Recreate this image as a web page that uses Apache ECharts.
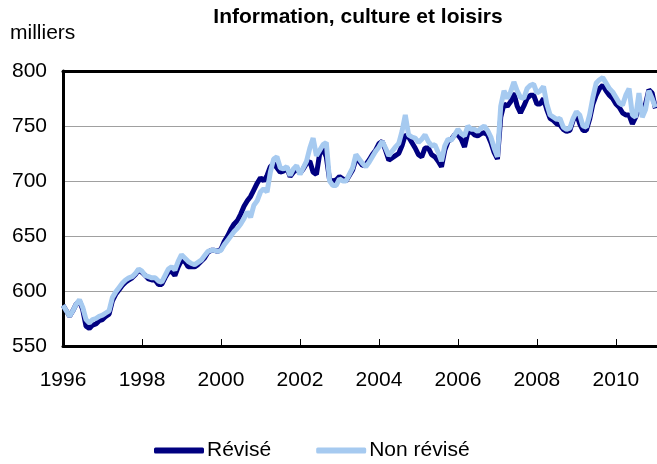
<!DOCTYPE html>
<html>
<head>
<meta charset="utf-8">
<script src="https://cdn.jsdelivr.net/npm/echarts@6/dist/echarts.min.js"></script>
<style>
  html, body { margin: 0; padding: 0; background: #fff; }
  #chart { width: 657px; height: 464px; }
</style>
</head>
<body>
<div id="chart"></div>
<script>
// emploi mensuel, de janvier 1996 à janvier 2011 (milliers)
var startYear = 1996;
var yearTicks = [1996, 1998, 2000, 2002, 2004, 2006, 2008, 2010];

var revise = [
  587, 582, 577, 582, 588, 591, 583, 568, 566, 569, 570, 573, 574, 577, 579, 591, 597, 601, 605, 608, 610, 612, 615, 619,
  617, 614, 611, 610, 610, 606, 606, 612, 617, 618, 614, 622, 628, 627, 622, 622, 622, 624, 627, 630, 635, 637, 637, 636, 638, 645, 650, 656, 661, 664, 670,
  677, 682, 686, 692, 698, 703, 700, 705, 713, 716, 712, 708, 709, 712, 704, 708, 711, 707, 711, 716, 718, 708, 706, 725, 729, 722, 701, 700, 701, 704, 702, 700, 705, 710, 720, 718,
  714, 715, 719, 724, 728, 734, 736, 728, 719, 721, 723, 725, 732, 742, 740, 735, 730, 724, 722, 730, 730, 724, 722, 718, 713, 728, 736, 738, 742, 742, 738, 731, 744, 745, 742, 741, 743, 744, 742, 735, 726, 720, 758, 770, 768, 772, 780, 768, 762, 768, 775, 778, 778, 770,
  770, 775, 765, 757, 755, 752, 751, 747, 745, 746, 755, 761, 752, 746, 746, 756, 770, 778, 784, 787, 782, 778, 775, 770, 767, 762, 760, 760, 752, 758, 766, 764, 770, 783, 780, 766
];

var nonRevise = [
  587, 582, 577, 582, 588, 592, 585, 574, 571, 574, 575, 577, 578, 580, 582, 594, 599, 603, 607, 610, 612, 613, 616, 620,
  618, 614, 613, 612, 612, 609, 608, 614, 620, 622, 619, 627, 633, 630, 627, 625, 624, 626, 628, 632, 636, 637, 637, 636, 637, 642, 646, 650, 654, 657, 661,
  666, 672, 667, 678, 682, 690, 693, 690, 708, 720, 722, 712, 711, 713, 705, 711, 714, 706, 712, 718, 730, 739, 723, 728, 733, 735, 700, 696, 696, 702, 700, 700, 706, 712, 724, 720,
  716, 713, 717, 722, 727, 731, 736, 730, 723, 727, 731, 734, 745, 760, 742, 740, 739, 735, 738, 742, 736, 732, 733, 726, 718, 732, 738, 737, 742, 747, 743, 741, 750, 747, 747, 745, 748, 750, 746, 740, 730, 722, 768, 782, 775, 781, 790, 782, 776, 775, 784, 787, 788, 780,
  782, 786, 770, 760, 758, 756, 757, 749, 747, 748, 757, 763, 760, 750, 749, 760, 776, 789, 792, 794, 789, 784, 781, 776, 771, 769, 778, 784, 760, 758, 780, 758, 765, 782, 775, 767
];

function toPoints(values) {
  var pts = [];
  for (var i = 0; i < values.length; i++) {
    pts.push([startYear + i / 12, values[i]]);
  }
  return pts;
}

var font = 'Liberation Sans, Arial, sans-serif';
var chart = echarts.init(document.getElementById('chart'), null, { renderer: 'canvas' });

var option = {
  animation: false,
  grid: { left: 63, right: 0, top: 71, bottom: 118, containLabel: false },
  graphic: [
    {
      type: 'text', left: 10, top: 23,
      style: { text: 'milliers', fontFamily: font, fontSize: 21, fill: '#000' }
    },
    {
      type: 'text', x: 358, y: 7,
      style: { text: 'Information, culture et loisirs', fontFamily: font, fontSize: 21, fontWeight: 'bold', fill: '#000', align: 'center' }
    }
  ],
  legend: {
    left: 154, top: 440, padding: 0,
    itemWidth: 50, itemHeight: 6, itemGap: 45,
    icon: 'roundRect',
    textStyle: { fontFamily: font, fontSize: 21, color: '#000', padding: [0, 0, 0, -2] },
    data: ['Révisé', 'Non révisé']
  },
  xAxis: [
    {
      type: 'value', min: startYear, max: 2011.04, interval: 2,
      axisLine: { show: true, lineStyle: { color: '#000', width: 3 } },
      axisTick: { show: true, inside: true, length: 7, lineStyle: { color: '#000', width: 1 } },
      axisLabel: {
        show: true, margin: 24, fontFamily: font, fontSize: 21, color: '#000',
        showMaxLabel: false,
        formatter: function (v) { return yearTicks.indexOf(Math.round(v)) >= 0 ? String(Math.round(v)) : ''; }
      },
      splitLine: { show: false }
    },
    {
      type: 'value', position: 'top', min: startYear, max: 2011.04,
      axisLine: { show: true, onZero: false, lineStyle: { color: '#000', width: 3 } },
      axisTick: { show: false }, axisLabel: { show: false }, splitLine: { show: false }
    }
  ],
  yAxis: {
    type: 'value', min: 550, max: 800, interval: 50,
    axisLine: { show: true, lineStyle: { color: '#000', width: 3 } },
    axisTick: { show: false },
    axisLabel: { margin: 16, fontFamily: font, fontSize: 21, color: '#000' },
    splitLine: { show: true, lineStyle: { color: '#a0a0a0', width: 1 } }
  },
  series: [
    {
      name: 'Révisé', type: 'line', data: toPoints(revise),
      showSymbol: false, symbol: 'none',
      lineStyle: { color: '#000080', width: 5 },
      itemStyle: { color: '#000080' },
      z: 2
    },
    {
      name: 'Non révisé', type: 'line', data: toPoints(nonRevise),
      showSymbol: false, symbol: 'none',
      lineStyle: { color: '#a6caf0', width: 5 },
      itemStyle: { color: '#a6caf0' },
      z: 3
    }
  ]
};

chart.setOption(option);
</script>
</body>
</html>
